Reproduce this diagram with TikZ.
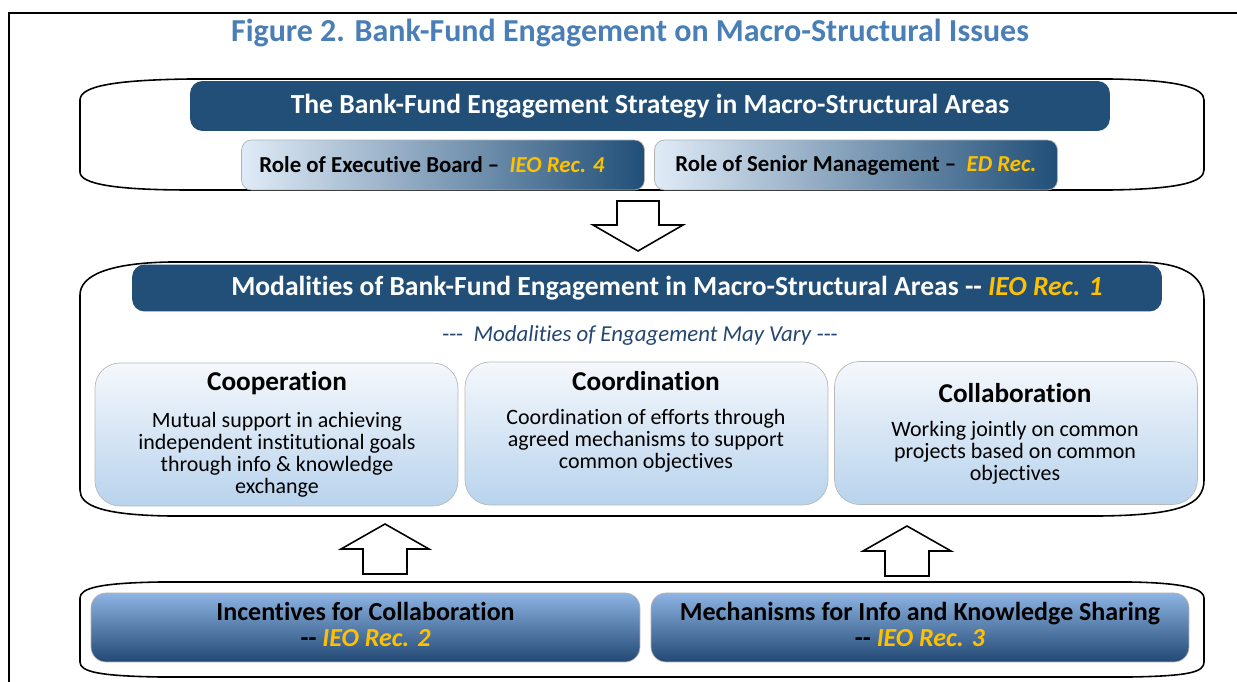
\documentclass[tikz,border=0pt]{standalone}
\usepackage{fontspec}
\setmainfont{Carlito}[Ligatures={TeX,NoCommon}]
\usepackage{tikz}
\usetikzlibrary{calc}
\usepackage{xcolor}
\definecolor{titleblue}{RGB}{74,126,182}
\definecolor{navy}{RGB}{33,79,120}
\definecolor{recgold}{RGB}{255,192,0}
\definecolor{paleblue}{RGB}{224,235,247}
\definecolor{cardtop}{RGB}{245,248,252}
\definecolor{cardbottom}{RGB}{184,211,237}
\definecolor{basetop}{RGB}{141,180,226}
\definecolor{basebottom}{RGB}{34,72,116}
\definecolor{varyblue}{RGB}{36,70,112}

\begin{document}
\begin{tikzpicture}[x=0.02cm,y=-0.02cm,
  container/.style={draw=black,line width=0.9pt,fill=white},
  banner/.style={fill=navy,rounded corners=0.25cm,text=white,font=\bfseries\fontsize{15.7}{18}\selectfont},
  rolebox/.style={draw=gray!60,rounded corners=0.2cm,left color=paleblue,right color=navy,minimum width=8.06cm,minimum height=1cm,font=\bfseries\fontsize{13}{15}\selectfont},
  card/.style={draw=gray!55,rounded corners=0.5cm,top color=cardtop,bottom color=cardbottom,minimum width=7.26cm,minimum height=2.86cm},
  cardtitle/.style={font=\bfseries\fontsize{15.5}{18}\selectfont},
  cardtext/.style={align=center,font=\fontsize{12.5}{12.5}\selectfont},
  basebox/.style={draw=gray!60,rounded corners=0.3cm,top color=basetop,bottom color=basebottom,minimum height=1.38cm,align=center,font=\bfseries\fontsize{14.8}{14.7}\selectfont},
  blockarrow/.style={draw=black,line width=0.9pt,fill=white,line join=miter}]

\useasboundingbox (0,0) rectangle (1237,682);

% Frame and title
\draw[line width=1.3pt] (9,682) -- (9,13) -- (1237,13);
\node[text=titleblue,font=\bfseries\fontsize{18.2}{21}\selectfont] (title) at (630,33) {Figure 2. Bank-Fund Engagement on Macro-Structural Issues};

% Strategy block
\draw[container] (80,100) .. controls (80,86) and (115,80) .. (190,79) -- (1110,79) .. controls (1180,80) and (1204,88) .. (1204,100) -- (1204,170) .. controls (1204,182) and (1180,189) .. (1110,190) -- (190,190) .. controls (115,190) and (80,184) .. (80,172) -- cycle;
\node[banner,minimum width=18.4cm,minimum height=1cm] (strategy) at (650,106) {The Bank-Fund Engagement Strategy in Macro-Structural Areas};
\node[rolebox] (board) at (443,165) {Role of Executive Board --\ \ \textcolor{recgold}{\textit{IEO Rec. 4}}\hspace*{0.44cm}};
\node[rolebox] (mgmt) at (856,165) {Role of Senior Management --\ \ \textcolor{recgold}{\textit{ED Rec.}}};

% arrow down
\draw[blockarrow] (617,201) -- (659,201) -- (659,225) -- (683,225) -- (638,251) -- (593,225) -- (617,225) -- cycle;

% Modalities block
\draw[container] (80,295) .. controls (80,275) and (110,263) .. (170,262) -- (1140,262) .. controls (1190,263) and (1204,280) .. (1204,300) -- (1204,480) .. controls (1204,505) and (1180,515) .. (1100,516) -- (170,516) .. controls (100,515) and (80,505) .. (80,490) -- cycle;
\node[banner,minimum width=20.6cm,minimum height=0.94cm] (modalities) at (647,288) {\hspace*{0.8cm}Modalities of Bank-Fund Engagement in Macro-Structural Areas -{}- \textcolor{recgold}{\textit{IEO Rec. 1}}};
\node[text=varyblue,font=\fontsize{13}{15}\selectfont] (vary) at (640,336) {{-}{-}{-}\ \ \textit{Modalities of Engagement May Vary} {-}{-}{-}};

\node[card] (coop) at (276.5,434.5) {};
\node[card] (coord) at (646.5,433.5) {};
\node[card] (collab) at (1016,433) {};

\node[cardtitle] (cooptitle) at (277,383) {Cooperation};
\node[cardtext] (cooptext) at (277,455) {Mutual support in achieving\\independent institutional goals\\through info \& knowledge\\exchange};
\node[cardtitle] (coordtitle) at (646,381) {Coordination};
\node[cardtext] (coordtext) at (646,441) {Coordination of efforts through\\agreed mechanisms to support\\common objectives};
\node[cardtitle] (collabtitle) at (1015,393) {Collaboration};
\node[cardtext] (collabtext) at (1015,453) {Working jointly on common\\projects based on common\\objectives};

% arrows up
\foreach \ax/\ay in {385/574, 907/576}
  \draw[blockarrow] (\ax-22,\ay) -- (\ax-22,\ay-25) -- (\ax-44,\ay-25) -- (\ax,\ay-50) -- (\ax+44,\ay-25) -- (\ax+22,\ay-25) -- (\ax+22,\ay) -- cycle;

% Incentives and mechanisms
\draw[container] (80,598) .. controls (80,588) and (100,583) .. (160,582) -- (1130,582) .. controls (1190,583) and (1204,590) .. (1204,598) -- (1204,662) .. controls (1204,672) and (1190,676) .. (1130,677) -- (160,677) .. controls (100,676) and (80,672) .. (80,662) -- cycle;
\node[basebox,minimum width=10.98cm] (incentives) at (365.5,627.5) {Incentives for Collaboration\\-{}- \textcolor{recgold}{\textit{IEO Rec. 2}}\rule[-0.12cm]{0pt}{0.12cm}};
\node[basebox,minimum width=10.76cm] (mechanisms) at (920,627.5) {Mechanisms for Info and Knowledge Sharing\\-{}- \textcolor{recgold}{\textit{IEO Rec. 3}}\rule[-0.12cm]{0pt}{0.12cm}};

\end{tikzpicture}
\end{document}
